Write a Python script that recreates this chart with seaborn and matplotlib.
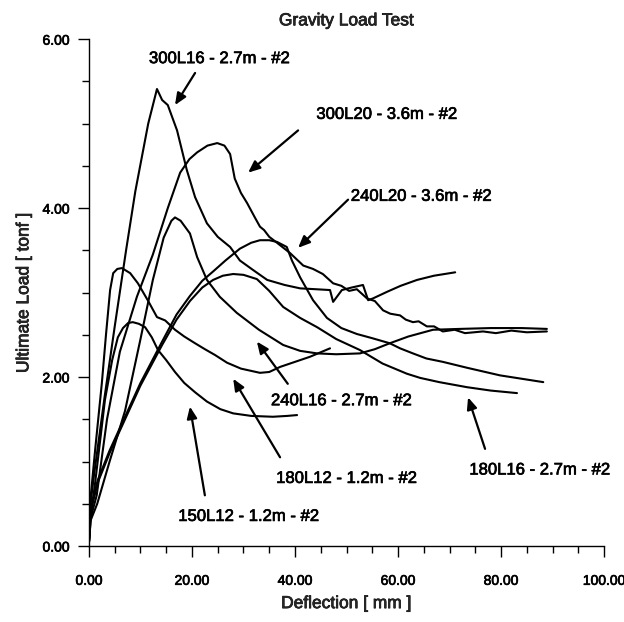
import matplotlib
matplotlib.use("Agg")
import matplotlib.pyplot as plt
import matplotlib.patheffects as pe
import numpy as np
import pandas as pd
import seaborn as sns

# Load-deflection records for each gravity load specimen (deflection in mm, load in tonf)
s300L16_x = [0, 0.3, 1.0, 3.0, 5.0, 7.2, 9.0, 11.5, 13.2, 14.2, 15.3, 17.1, 19.0, 20.6, 22.9,
             25.0, 27.4, 29.3, 31.8, 34.6, 38.0, 41.0, 44.0, 46.8, 47.4, 49.1, 51.0, 53.2,
             54.2, 55.1, 57.9, 60.5, 63.7, 67.0, 71.1]
s300L16_y = [0.05, 0.5, 0.85, 1.75, 2.6, 3.5, 4.2, 5.0, 5.41, 5.28, 5.22, 4.92, 4.45, 4.13, 3.82,
             3.66, 3.54, 3.38, 3.27, 3.15, 3.09, 3.05, 3.04, 3.03, 2.89, 3.03, 3.06, 3.09,
             2.91, 2.93, 3.01, 3.08, 3.15, 3.20, 3.24]

s300L20_x = [0, 0.4, 1.5, 3.5, 6.0, 9.3, 12.4, 15.3, 17.7, 19.5, 21.0, 23.0, 24.9, 26.3, 27.4,
             28.3, 29.5, 30.7, 32.2, 33.2, 34.0, 35.0, 36.5, 39.0, 41.6, 43.5, 45.4, 47.4,
             49.0, 50.5, 52.0, 54.0, 55.5, 57.1, 58.5, 60.4, 61.5, 62.9, 64.0, 65.6, 67.0,
             68.7, 71.0, 73.0, 76.5, 79.0, 82.0, 85.0, 88.9]
s300L20_y = [0.05, 0.35, 0.6, 1.5, 2.3, 2.95, 3.45, 4.0, 4.42, 4.58, 4.66, 4.74, 4.77, 4.74, 4.64,
             4.35, 4.18, 4.06, 3.89, 3.78, 3.74, 3.66, 3.59, 3.47, 3.32, 3.28, 3.22, 3.11,
             3.08, 3.02, 3.04, 2.93, 2.90, 2.79, 2.75, 2.73, 2.68, 2.65, 2.66, 2.60, 2.60,
             2.54, 2.56, 2.52, 2.54, 2.52, 2.55, 2.53, 2.54]

s240L20_x = [0, 0.3, 1.7, 4.0, 7.0, 10.0, 14.2, 17.0, 19.6, 22.0, 24.1, 26.5, 29.3, 31.5, 33.2,
             35.0, 36.5, 38.4, 39.4, 40.2, 41.0, 43.5, 46.2, 49.0, 52.0, 55.0, 58.4, 60.4,
             62.9, 65.5, 68.7, 73.4, 79.8, 84.0, 88.2]
s240L20_y = [0.05, 0.43, 0.78, 1.13, 1.53, 1.93, 2.42, 2.74, 2.96, 3.14, 3.25, 3.38, 3.52, 3.59,
             3.62, 3.62, 3.60, 3.54, 3.38, 3.28, 3.18, 2.91, 2.70, 2.58, 2.51, 2.46, 2.40, 2.34,
             2.28, 2.22, 2.18, 2.11, 2.02, 1.98, 1.94]

s240L16_x = [0, 0.3, 1.6, 4.0, 7.0, 10.0, 12.4, 14.5, 16.0, 16.7, 17.8, 19.6, 21.0, 22.9, 25.4,
             28.7, 33.0, 37.7, 41.0, 44.3, 48.0, 52.6, 55.5, 58.4, 62.0, 66.8, 72.0, 78.0,
             84.0, 88.9]
s240L16_y = [0.05, 0.3, 0.5, 1.0, 1.6, 2.45, 3.15, 3.65, 3.85, 3.89, 3.85, 3.70, 3.42, 3.15, 2.95,
             2.76, 2.56, 2.38, 2.31, 2.28, 2.27, 2.28, 2.33, 2.40, 2.48, 2.56, 2.57, 2.58,
             2.58, 2.57]

s180L16_x = [0, 0.3, 1.7, 4.0, 7.0, 10.0, 14.2, 17.0, 19.6, 22.0, 24.1, 26.0, 28.0, 30.0, 32.6,
             35.0, 37.7, 41.0, 44.3, 48.0, 52.6, 57.0, 61.7, 64.3, 68.0, 73.4, 78.0, 83.1]
s180L16_y = [0.05, 0.4, 0.75, 1.1, 1.5, 1.9, 2.38, 2.68, 2.90, 3.06, 3.15, 3.20, 3.22, 3.21, 3.16,
             3.02, 2.83, 2.70, 2.59, 2.45, 2.32, 2.16, 2.04, 1.99, 1.94, 1.88, 1.84, 1.81]

s180L12_x = [0, 0.2, 1.2, 2.5, 3.3, 4.1, 4.7, 5.5, 6.4, 8.0, 9.5, 11.5, 13.2, 14.8, 16.7, 18.5,
             20.6, 22.5, 24.5, 26.8, 29.5, 33.2, 35.0, 37.1, 40.0, 42.9, 46.8]
s180L12_y = [0.05, 0.5, 1.14, 1.93, 2.5, 3.03, 3.23, 3.28, 3.29, 3.23, 3.11, 2.90, 2.71, 2.67, 2.56,
             2.48, 2.40, 2.33, 2.26, 2.17, 2.10, 2.05, 2.06, 2.12, 2.18, 2.24, 2.34]

s150L12_x = [0, 0.2, 1.2, 3.1, 4.5, 5.6, 6.6, 7.6, 8.5, 9.7, 10.9, 12.2, 13.4, 15.0, 16.7, 18.5,
             20.6, 22.9, 25.5, 28.0, 31.5, 35.7, 38.5, 40.4]
s150L12_y = [0.05, 0.3, 0.75, 1.73, 2.20, 2.47, 2.58, 2.64, 2.65, 2.63, 2.59, 2.47, 2.32, 2.20,
             2.06, 1.93, 1.82, 1.71, 1.62, 1.57, 1.54, 1.53, 1.54, 1.55]

specimens = {
    "300L16 - 2.7m - #2": (s300L16_x, s300L16_y),
    "300L20 - 3.6m - #2": (s300L20_x, s300L20_y),
    "240L20 - 3.6m - #2": (s240L20_x, s240L20_y),
    "240L16 - 2.7m - #2": (s240L16_x, s240L16_y),
    "180L16 - 2.7m - #2": (s180L16_x, s180L16_y),
    "180L12 - 1.2m - #2": (s180L12_x, s180L12_y),
    "150L12 - 1.2m - #2": (s150L12_x, s150L12_y),
}

# Callout text position and arrow tip (data coordinates) for each specimen
label_text = list(specimens.keys())
label_xy = [(25.3, 5.77), (57.8, 5.11), (64.5, 4.14), (49.0, 1.72), (87.5, 0.90), (50.0, 0.80), (31.0, 0.35)]
arrow_from = [(20.6, 5.60), (40.6, 4.92), (50.3, 4.10), (38.6, 1.92), (76.9, 1.15), (37.1, 1.05), (22.5, 0.60)]
arrow_to = [(16.7, 5.22), (30.9, 4.42), (40.6, 3.53), (32.6, 2.42), (73.6, 1.76), (28.0, 1.98), (19.6, 1.65)]

frames = []
for name, (xs, ys) in specimens.items():
    frames.append(pd.DataFrame({"specimen": name, "deflection": xs, "load": ys}))
df = pd.concat(frames, ignore_index=True)

sns.set_style("ticks")
plt.rcParams["font.family"] = ["Liberation Sans", "DejaVu Sans"]
plt.rcParams["xtick.direction"] = "out"
plt.rcParams["ytick.direction"] = "out"

# slightly heavier strokes for all lettering
heavy = [pe.withStroke(linewidth=0.5, foreground="black")]

fig = plt.figure(figsize=(6.24, 6.22), dpi=100)
ax = fig.add_axes([0.1426, 0.1222, 0.8254, 0.8148])

sns.lineplot(data=df, x="deflection", y="load", units="specimen", estimator=None,
             sort=False, color="black", linewidth=1.5, ax=ax, legend=False)

for txt, pos, a0, a1 in zip(label_text, label_xy, arrow_from, arrow_to):
    ax.text(pos[0], pos[1], txt, ha="center", va="center", fontsize=12, color="black",
            path_effects=heavy)
    ax.annotate("", xy=a1, xytext=a0,
                arrowprops=dict(arrowstyle="-|>,head_length=0.7,head_width=0.3",
                                color="black", lw=1.6, shrinkA=0, shrinkB=0))

ax.set_xlim(0, 100)
ax.set_ylim(0, 6)
ax.set_xticks(np.arange(0, 101, 20))
ax.set_xticks(np.arange(0, 101, 5), minor=True)
ax.set_yticks(np.arange(0, 6.01, 2))
ax.set_yticks(np.arange(0, 6.01, 0.5), minor=True)
ax.set_xticklabels([f"{v:.2f}" for v in np.arange(0, 101, 20)])
ax.set_yticklabels([f"{v:.2f}" for v in np.arange(0, 6.01, 2)])
ax.tick_params(which="major", length=8, width=1.0, labelsize=10, pad=12, colors="black")
ax.tick_params(which="minor", length=5, width=1.0, colors="black")
ax.tick_params(axis="y", which="major", pad=6)
for lab in ax.get_xticklabels() + ax.get_yticklabels():
    lab.set_path_effects(heavy)

for side in ("top", "right"):
    ax.spines[side].set_visible(False)
for side in ("left", "bottom"):
    ax.spines[side].set_linewidth(1.0)
    ax.spines[side].set_color("black")

ax.set_xlabel("Deflection [ mm ]", fontsize=12.5, labelpad=6, path_effects=heavy)
ax.set_ylabel("Ultimate Load [ tonf ]", fontsize=12.5, labelpad=8, path_effects=heavy)
ax.set_title("Gravity Load Test", fontsize=12.5, pad=10, path_effects=heavy)

fig.savefig("out.png", dpi=100)
